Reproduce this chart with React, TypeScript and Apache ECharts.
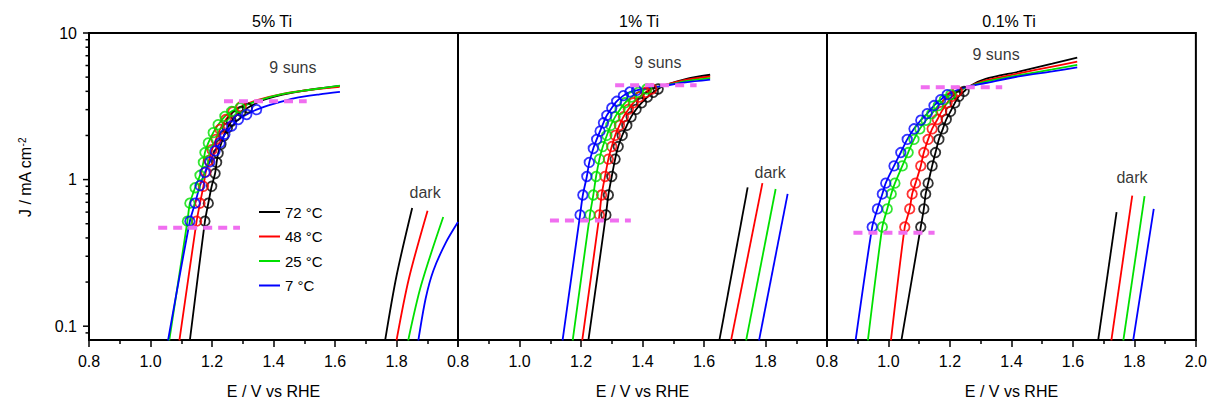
import React, { useEffect, useRef } from 'react';
import * as echarts from 'echarts';

type Pt = [number, number];

const FONT = 'Liberation Sans, Arial, sans-serif';

const TEMPS = ['72 °C', '48 °C', '25 °C', '7 °C'];
const COLORS = ['#000000', '#ff0000', '#00e000', '#0000ff'];
const DASH_COLOR = '#f06ef0';
const PANEL_TITLES = ['5% Ti', '1% Ti', '0.1% Ti'];
const X_NAME = 'E / V vs RHE';
const Y_NAME = 'J / mA cm{sup|-2}';
const Y_MAJOR = [0.1, 1, 10];
const Y_MINOR = [0.09, 0.2, 0.3, 0.4, 0.5, 0.6, 0.7, 0.8, 0.9, 2, 3, 4, 5, 6, 7, 8, 9];

// ---------- Panel 1: 5% Ti ----------
const p1Light72: Pt[] = [[1.128, 0.08], [1.177, 0.52], [1.188, 0.69], [1.199, 0.9], [1.21, 1.1], [1.215, 1.31], [1.22, 1.51], [1.229, 1.74], [1.238, 1.98], [1.25, 2.25], [1.263, 2.5], [1.278, 2.72], [1.295, 2.92], [1.315, 3.08], [1.36, 3.45], [1.43, 3.8], [1.52, 4.1], [1.615, 4.35]];
const p1Light48: Pt[] = [[1.094, 0.08], [1.15, 0.52], [1.161, 0.69], [1.172, 0.9], [1.18, 1.13], [1.19, 1.35], [1.2, 1.6], [1.213, 1.88], [1.226, 2.2], [1.245, 2.57], [1.268, 2.9], [1.295, 3.15], [1.35, 3.5], [1.43, 3.85], [1.52, 4.1], [1.615, 4.3]];
const p1Light25: Pt[] = [[1.061, 0.08], [1.12, 0.52], [1.128, 0.69], [1.145, 0.88], [1.161, 1.07], [1.172, 1.31], [1.177, 1.53], [1.188, 1.78], [1.204, 2.09], [1.22, 2.37], [1.242, 2.7], [1.264, 2.92], [1.291, 3.09], [1.34, 3.4], [1.42, 3.8], [1.52, 4.1], [1.616, 4.38]];
const p1Light7: Pt[] = [[1.057, 0.08], [1.128, 0.52], [1.145, 0.69], [1.161, 0.91], [1.177, 1.12], [1.193, 1.32], [1.21, 1.57], [1.226, 1.78], [1.242, 2.04], [1.264, 2.32], [1.286, 2.57], [1.313, 2.78], [1.345, 3.0], [1.4, 3.28], [1.47, 3.6], [1.55, 3.82], [1.616, 3.97]];
const p1Mark72: Pt[] = [[1.177, 0.52], [1.188, 0.69], [1.199, 0.9], [1.21, 1.1], [1.215, 1.31], [1.22, 1.51], [1.229, 1.74], [1.238, 1.98], [1.25, 2.25], [1.263, 2.5], [1.278, 2.72], [1.295, 2.92], [1.315, 3.08]];
const p1Mark48: Pt[] = [[1.15, 0.52], [1.161, 0.69], [1.172, 0.9], [1.18, 1.13], [1.19, 1.35], [1.2, 1.6], [1.213, 1.88], [1.226, 2.2], [1.245, 2.57], [1.268, 2.9], [1.295, 3.15]];
const p1Mark25: Pt[] = [[1.12, 0.52], [1.128, 0.69], [1.145, 0.88], [1.161, 1.07], [1.172, 1.31], [1.177, 1.53], [1.188, 1.78], [1.204, 2.09], [1.22, 2.37], [1.242, 2.7], [1.264, 2.92], [1.291, 3.09]];
const p1Mark7: Pt[] = [[1.128, 0.52], [1.145, 0.69], [1.161, 0.91], [1.177, 1.12], [1.193, 1.32], [1.21, 1.57], [1.226, 1.78], [1.242, 2.04], [1.264, 2.32], [1.286, 2.57], [1.313, 2.78], [1.345, 3.0]];
const p1Dark72: Pt[] = [[1.763, 0.08], [1.8, 0.22], [1.851, 0.64]];
const p1Dark48: Pt[] = [[1.8, 0.08], [1.84, 0.21], [1.901, 0.614]];
const p1Dark25: Pt[] = [[1.838, 0.08], [1.88, 0.19], [1.952, 0.555]];
const p1Dark7: Pt[] = [[1.871, 0.08], [1.895, 0.155], [1.92, 0.24], [1.96, 0.37], [2.0, 0.513]];
const p1DashHigh: Pt[] = [[1.239, 3.42], [1.508, 3.42]];
const p1DashLow: Pt[] = [[1.025, 0.469], [1.291, 0.469]];

// ---------- Panel 2: 1% Ti ----------
const p2Light72: Pt[] = [[1.224, 0.08], [1.281, 0.574], [1.289, 0.785], [1.3, 1.05], [1.311, 1.38], [1.321, 1.68], [1.334, 2.0], [1.349, 2.34], [1.363, 2.68], [1.379, 3.01], [1.397, 3.34], [1.416, 3.66], [1.435, 3.94], [1.451, 4.15], [1.47, 4.38], [1.54, 4.85], [1.62, 5.19]];
const p2Light48: Pt[] = [[1.204, 0.08], [1.26, 0.574], [1.267, 0.785], [1.278, 1.05], [1.289, 1.38], [1.3, 1.68], [1.311, 2.0], [1.325, 2.34], [1.338, 2.68], [1.354, 3.01], [1.37, 3.34], [1.39, 3.66], [1.411, 3.94], [1.43, 4.15], [1.46, 4.35], [1.54, 4.78], [1.62, 5.05]];
const p2Light25: Pt[] = [[1.173, 0.08], [1.229, 0.574], [1.24, 0.785], [1.249, 1.05], [1.26, 1.38], [1.271, 1.68], [1.284, 2.0], [1.297, 2.34], [1.311, 2.68], [1.327, 3.01], [1.343, 3.34], [1.365, 3.66], [1.386, 3.94], [1.414, 4.15], [1.46, 4.33], [1.54, 4.7], [1.62, 4.93]];
const p2Light7: Pt[] = [[1.14, 0.08], [1.197, 0.574], [1.206, 0.785], [1.219, 1.05], [1.227, 1.31], [1.24, 1.63], [1.251, 1.88], [1.262, 2.14], [1.273, 2.44], [1.284, 2.74], [1.3, 3.08], [1.316, 3.42], [1.338, 3.74], [1.359, 3.96], [1.381, 4.06], [1.42, 4.22], [1.46, 4.33], [1.54, 4.6], [1.62, 4.8]];
const p2Mark72: Pt[] = [[1.281, 0.574], [1.289, 0.785], [1.3, 1.05], [1.311, 1.38], [1.321, 1.68], [1.334, 2.0], [1.349, 2.34], [1.363, 2.68], [1.379, 3.01], [1.397, 3.34], [1.416, 3.66], [1.435, 3.94], [1.451, 4.15]];
const p2Mark48: Pt[] = [[1.26, 0.574], [1.267, 0.785], [1.278, 1.05], [1.289, 1.38], [1.3, 1.68], [1.311, 2.0], [1.325, 2.34], [1.338, 2.68], [1.354, 3.01], [1.37, 3.34], [1.39, 3.66], [1.411, 3.94], [1.43, 4.15]];
const p2Mark25: Pt[] = [[1.229, 0.574], [1.24, 0.785], [1.249, 1.05], [1.26, 1.38], [1.271, 1.68], [1.284, 2.0], [1.297, 2.34], [1.311, 2.68], [1.327, 3.01], [1.343, 3.34], [1.365, 3.66], [1.386, 3.94], [1.414, 4.15]];
const p2Mark7: Pt[] = [[1.197, 0.574], [1.206, 0.785], [1.219, 1.05], [1.227, 1.31], [1.24, 1.63], [1.251, 1.88], [1.262, 2.14], [1.273, 2.44], [1.284, 2.74], [1.3, 3.08], [1.316, 3.42], [1.338, 3.74], [1.359, 3.96], [1.381, 4.06]];
const p2Dark72: Pt[] = [[1.65, 0.08], [1.742, 0.886]];
const p2Dark48: Pt[] = [[1.688, 0.08], [1.79, 0.946]];
const p2Dark25: Pt[] = [[1.737, 0.08], [1.833, 0.863]];
const p2Dark7: Pt[] = [[1.779, 0.08], [1.872, 0.8]];
const p2DashHigh: Pt[] = [[1.311, 4.4], [1.576, 4.4]];
const p2DashLow: Pt[] = [[1.099, 0.526], [1.362, 0.526]];

// ---------- Panel 3: 0.1% Ti ----------
const p3Light72: Pt[] = [[1.042, 0.08], [1.105, 0.475], [1.115, 0.631], [1.121, 0.798], [1.129, 0.946], [1.142, 1.24], [1.153, 1.53], [1.164, 1.88], [1.177, 2.22], [1.188, 2.57], [1.202, 2.92], [1.216, 3.34], [1.229, 3.7], [1.246, 4.0], [1.27, 4.4], [1.316, 4.86], [1.424, 5.45], [1.533, 6.17], [1.614, 6.8]];
const p3Light48: Pt[] = [[1.008, 0.08], [1.053, 0.475], [1.069, 0.631], [1.077, 0.798], [1.088, 0.946], [1.105, 1.24], [1.115, 1.53], [1.129, 1.88], [1.142, 2.22], [1.159, 2.57], [1.173, 2.92], [1.191, 3.34], [1.207, 3.7], [1.224, 4.0], [1.265, 4.35], [1.316, 4.75], [1.424, 5.3], [1.533, 5.9], [1.614, 6.38]];
const p3Light25: Pt[] = [[0.933, 0.08], [0.98, 0.475], [0.996, 0.631], [1.009, 0.798], [1.021, 0.946], [1.045, 1.24], [1.064, 1.53], [1.083, 1.88], [1.102, 2.22], [1.122, 2.54], [1.141, 2.82], [1.162, 3.2], [1.182, 3.51], [1.203, 3.8], [1.26, 4.3], [1.316, 4.65], [1.424, 5.15], [1.533, 5.65], [1.614, 6.06]];
const p3Light7: Pt[] = [[0.893, 0.08], [0.947, 0.475], [0.964, 0.631], [0.98, 0.798], [0.991, 0.946], [1.018, 1.24], [1.04, 1.53], [1.061, 1.88], [1.083, 2.22], [1.105, 2.54], [1.126, 2.82], [1.148, 3.2], [1.17, 3.51], [1.191, 3.8], [1.25, 4.28], [1.316, 4.56], [1.424, 5.06], [1.533, 5.47], [1.614, 5.82]];
const p3Mark72: Pt[] = [[1.105, 0.475], [1.115, 0.631], [1.121, 0.798], [1.129, 0.946], [1.142, 1.24], [1.153, 1.53], [1.164, 1.88], [1.177, 2.22], [1.188, 2.57], [1.202, 2.92], [1.216, 3.34], [1.229, 3.7], [1.246, 4.0]];
const p3Mark48: Pt[] = [[1.053, 0.475], [1.069, 0.631], [1.077, 0.798], [1.088, 0.946], [1.105, 1.24], [1.115, 1.53], [1.129, 1.88], [1.142, 2.22], [1.159, 2.57], [1.173, 2.92], [1.191, 3.34], [1.207, 3.7], [1.224, 4.0]];
const p3Mark25: Pt[] = [[0.98, 0.475], [0.996, 0.631], [1.009, 0.798], [1.021, 0.946], [1.045, 1.24], [1.064, 1.53], [1.083, 1.88], [1.102, 2.22], [1.122, 2.54], [1.141, 2.82], [1.162, 3.2], [1.182, 3.51], [1.203, 3.8]];
const p3Mark7: Pt[] = [[0.947, 0.475], [0.964, 0.631], [0.98, 0.798], [0.991, 0.946], [1.018, 1.24], [1.04, 1.53], [1.061, 1.88], [1.083, 2.22], [1.105, 2.54], [1.126, 2.82], [1.148, 3.2], [1.17, 3.51], [1.191, 3.8]];
const p3Dark72: Pt[] = [[1.682, 0.08], [1.742, 0.6]];
const p3Dark48: Pt[] = [[1.725, 0.08], [1.793, 0.776]];
const p3Dark25: Pt[] = [[1.764, 0.08], [1.833, 0.77]];
const p3Dark7: Pt[] = [[1.796, 0.08], [1.863, 0.631]];
const p3DashHigh: Pt[] = [[1.105, 4.26], [1.37, 4.26]];
const p3DashLow: Pt[] = [[0.886, 0.434], [1.15, 0.434]];

// annotation anchors (E, J)
const NOTES_TEXT = ['9 suns', 'dark'];
const p1Notes: Pt[] = [[1.463, 5.79], [1.893, 0.822]];
const p2Notes: Pt[] = [[1.45, 6.27], [1.815, 1.11]];
const p3Notes: Pt[] = [[1.35, 7.1], [1.792, 1.04]];

const PANELS = [
  { light: [p1Light72, p1Light48, p1Light25, p1Light7], marks: [p1Mark72, p1Mark48, p1Mark25, p1Mark7], dark: [p1Dark72, p1Dark48, p1Dark25, p1Dark7], dashes: [p1DashHigh, p1DashLow], notes: p1Notes },
  { light: [p2Light72, p2Light48, p2Light25, p2Light7], marks: [p2Mark72, p2Mark48, p2Mark25, p2Mark7], dark: [p2Dark72, p2Dark48, p2Dark25, p2Dark7], dashes: [p2DashHigh, p2DashLow], notes: p2Notes },
  { light: [p3Light72, p3Light48, p3Light25, p3Light7], marks: [p3Mark72, p3Mark48, p3Mark25, p3Mark7], dark: [p3Dark72, p3Dark48, p3Dark25, p3Dark7], dashes: [p3DashHigh, p3DashLow], notes: p3Notes },
];

const GRID_LEFT = [89, 458, 827];
const GRID_W = 369;
const GRID_TOP = 33;
const GRID_H = 309;
const TITLE_X = [272, 639, 1009];
const Y_MIN = 0.0805;
const Y_MAX = 10;

function buildOption(): any {
  const grid = GRID_LEFT.map((l) => ({
    left: l, top: GRID_TOP, width: GRID_W, height: GRID_H,
    show: true, borderColor: '#000', borderWidth: 2, backgroundColor: 'transparent',
  }));

  const xAxis = PANELS.map((_, p) => ({
    type: 'value', gridIndex: p, min: 0.8, max: 2.0, interval: 0.2,
    axisLine: { show: true, lineStyle: { color: '#000', width: 2 } },
    axisTick: { show: true, length: 7, lineStyle: { color: '#000', width: 1.5 } },
    minorTick: { show: true, splitNumber: 2, length: 4, lineStyle: { color: '#000', width: 1.5 } },
    splitLine: { show: false },
    axisLabel: {
      fontSize: 16, color: '#000', margin: 13, fontFamily: FONT,
      showMinLabel: true, showMaxLabel: p === 2,
      formatter: (v: number) => v.toFixed(1),
    },
    name: X_NAME, nameLocation: 'middle', nameGap: 43,
    nameTextStyle: { fontSize: 16, color: '#000', fontFamily: FONT },
  }));

  const yAxis = PANELS.map((_, p) => ({
    type: 'log', logBase: 10, gridIndex: p, min: Y_MIN, max: Y_MAX,
    axisLine: { show: true, onZero: false, lineStyle: { color: '#000', width: 2 } },
    axisTick: { show: false },
    minorTick: { show: false },
    splitLine: { show: false },
    axisLabel: {
      show: p === 0, fontSize: 16, color: '#000', margin: 12, fontFamily: FONT,
      formatter: (v: number) => (Y_MAJOR.some((t) => Math.abs(v - t) < 1e-9) ? String(v) : ''),
    },
    name: p === 0 ? Y_NAME : '',
    nameLocation: 'middle', nameGap: 56,
    nameTextStyle: {
      fontSize: 16, color: '#000', fontFamily: FONT, padding: [0, 0, 0, 18],
      rich: { sup: { fontSize: 10, verticalAlign: 'top', fontFamily: FONT, color: '#000' } },
    },
  }));

  const series: any[] = [];
  PANELS.forEach((panel, p) => {
    panel.light.forEach((d, i) => {
      series.push({
        type: 'line', name: p === 0 ? TEMPS[i] : `${TEMPS[i]} (${PANEL_TITLES[p]})`,
        xAxisIndex: p, yAxisIndex: p, data: d, showSymbol: false, symbol: 'none', smooth: 0.25,
        lineStyle: { color: COLORS[i], width: 1.8 }, itemStyle: { color: COLORS[i] }, z: 2,
      });
    });
    panel.dark.forEach((d, i) => {
      series.push({
        type: 'line', name: `dark ${TEMPS[i]} (${PANEL_TITLES[p]})`,
        xAxisIndex: p, yAxisIndex: p, data: d, showSymbol: false, symbol: 'none', smooth: 0.3,
        lineStyle: { color: COLORS[i], width: 1.8 }, itemStyle: { color: COLORS[i] }, z: 2,
      });
    });
    panel.marks.forEach((d, i) => {
      series.push({
        type: 'scatter', name: `fit ${TEMPS[i]} (${PANEL_TITLES[p]})`,
        xAxisIndex: p, yAxisIndex: p, data: d, symbol: 'circle', symbolSize: 9.5,
        itemStyle: { color: 'rgba(0,0,0,0)', borderColor: COLORS[i], borderWidth: 1.8 }, z: 3,
      });
    });
    panel.dashes.forEach((d, k) => {
      series.push({
        type: 'line', name: `ref ${k} (${PANEL_TITLES[p]})`,
        xAxisIndex: p, yAxisIndex: p, data: d, showSymbol: false, symbol: 'none',
        lineStyle: { color: DASH_COLOR, width: 4, type: [9, 6] }, z: 4,
      });
    });
    series.push({
      type: 'scatter', name: `notes (${PANEL_TITLES[p]})`,
      xAxisIndex: p, yAxisIndex: p, symbolSize: 0,
      data: panel.notes.map((v, k) => ({ value: v, name: NOTES_TEXT[k] })),
      label: { show: true, position: 'inside', formatter: '{b}', fontSize: 16, color: '#000', fontFamily: FONT },
      z: 5,
    });
  });

  // log-axis ticks for the first panel's y axis
  const tickData = [
    ...Y_MAJOR.map((v) => [0.8, v, 6]),
    ...Y_MINOR.map((v) => [0.8, v, 3.5]),
  ];
  series.push({
    type: 'custom', name: 'yticks', xAxisIndex: 0, yAxisIndex: 0, silent: true, clip: false,
    data: tickData, z: 6,
    renderItem: (_params: any, api: any) => {
      const pt = api.coord([api.value(0), api.value(1)]);
      const len = api.value(2);
      return {
        type: 'line',
        shape: { x1: pt[0] - len, y1: pt[1], x2: pt[0], y2: pt[1] },
        style: { stroke: '#000', lineWidth: 1.5 },
      };
    },
  });

  return {
    animation: false,
    backgroundColor: '#fff',
    textStyle: { fontFamily: FONT },
    title: PANEL_TITLES.map((t, i) => ({
      text: t, left: TITLE_X[i], top: 13, textAlign: 'center', padding: 0,
      textStyle: { fontSize: 16, fontWeight: 'normal', color: '#000', fontFamily: FONT },
    })),
    legend: {
      data: TEMPS, orient: 'vertical', left: 259, top: 204, padding: 0,
      icon: 'rect', itemWidth: 21, itemHeight: 2, itemGap: 8.5, selectedMode: false,
      textStyle: { fontSize: 15, color: '#000', lineHeight: 16, fontFamily: FONT },
    },
    grid, xAxis, yAxis, series,
  };
}

export default function App() {
  const ref = useRef<HTMLDivElement>(null);
  useEffect(() => {
    if (!ref.current) return;
    const chart = echarts.init(ref.current, undefined, { renderer: 'svg' });
    chart.setOption(buildOption());
    return () => chart.dispose();
  }, []);
  return <div ref={ref} style={{ position: 'absolute', left: 0, top: 0, width: 1210, height: 404 }} />;
}
